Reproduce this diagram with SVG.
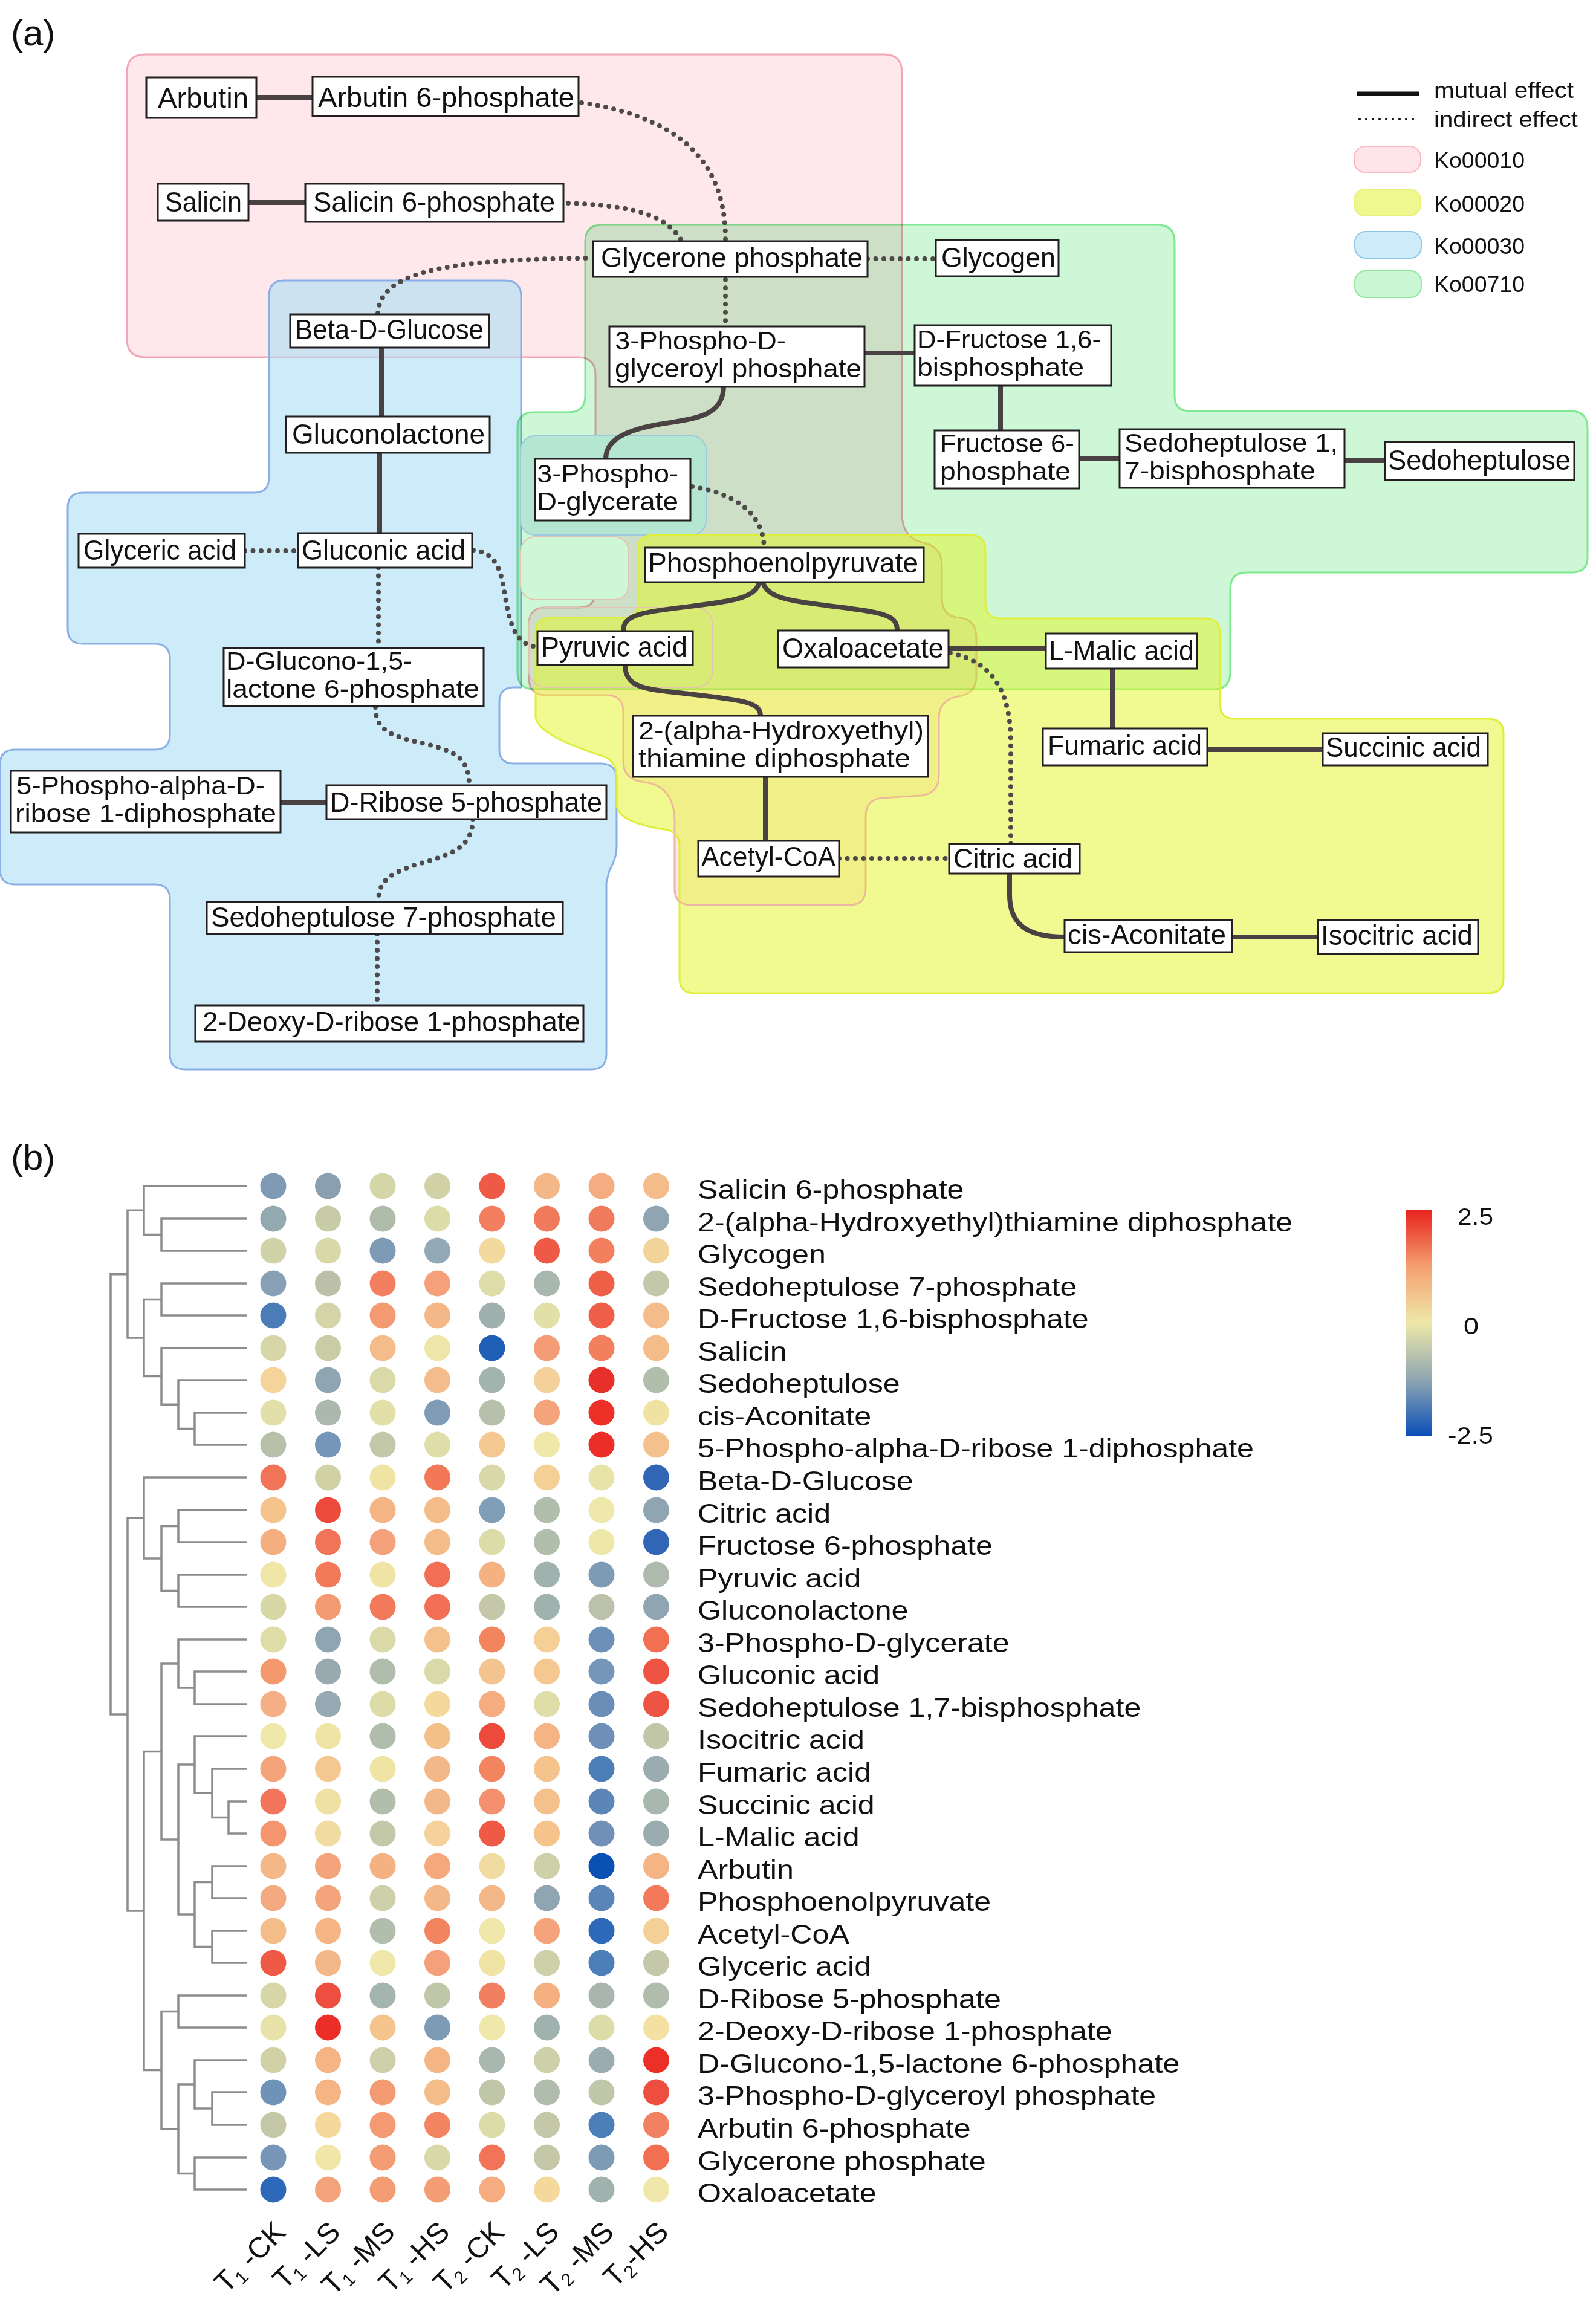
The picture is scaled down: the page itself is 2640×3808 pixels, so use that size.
<svg xmlns="http://www.w3.org/2000/svg" width="2640" height="3808" viewBox="0 0 2640 3808">
<style>
.reg{mix-blend-mode:multiply;stroke-width:3}
.box{fill:#fff;stroke:#231f20;stroke-width:3}
.nt{font-family:"Liberation Sans",Arial,sans-serif;font-size:46px;fill:#111}
.nt2{font-family:"Liberation Sans",Arial,sans-serif;font-size:42px;fill:#111}
.sol{fill:none;stroke:#4a4242;stroke-width:8}
.dot{fill:none;stroke:#4f4a4a;stroke-width:8;stroke-linecap:round;stroke-dasharray:0 13.5}
.lg{font-family:"Liberation Sans",Arial,sans-serif;font-size:36px;fill:#111}
.pl{font-family:"Liberation Sans",Arial,sans-serif;font-size:60px;fill:#111}
.den{fill:none;stroke:#8c8c8c;stroke-width:3.5}
.rl{font-family:"Liberation Sans",Arial,sans-serif;font-size:44px;fill:#111}
.cl{font-family:"Liberation Sans",Arial,sans-serif;font-size:48px;fill:#111}
.cb{font-family:"Liberation Sans",Arial,sans-serif;font-size:38px;fill:#111}
</style>
<defs>
<linearGradient id="cbar" x1="0" y1="0" x2="0" y2="1">
<stop offset="0" stop-color="#e8231e"/>
<stop offset="0.25" stop-color="#f4a070"/>
<stop offset="0.5" stop-color="#eee8a8"/>
<stop offset="0.75" stop-color="#8fa6b2"/>
<stop offset="1" stop-color="#0a50b8"/>
</linearGradient>
</defs>
<rect width="2640" height="3808" fill="#fff"/>
<text class="pl" x="18" y="75">(a)</text>
<text class="pl" x="18" y="1935">(b)</text>

<g id="regions">
<path class="reg" fill="#ffe8ec" stroke="#f5a6b6" d="M240,90 H1462 Q1492,90 1492,120 V850 Q1492,890 1528,898 Q1558,905 1558,935 V990 Q1558,1020 1588,1022 Q1615,1025 1615,1055 V1118 Q1615,1148 1585,1152 Q1553,1158 1553,1188 V1283 Q1553,1313 1523,1316 L1460,1320 Q1432,1322 1432,1350 V1470 Q1432,1497 1405,1497 H1143 Q1116,1497 1116,1470 V1360 Q1116,1300 1066,1294 Q1031,1290 1031,1260 V1178 Q1031,1150 1003,1150 H903 Q875,1150 875,1122 V1033 Q875,1005 903,1005 H958 Q985,1005 985,978 V620 Q985,591 956,591 H240 Q210,591 210,561 V120 Q210,90 240,90 Z"/>
<path fill="#acdef3" fill-opacity="0.6" stroke="#8aaee6" stroke-width="3" d="M470,464 H835 Q862,464 862,490 V1137 H850 Q826,1137 826,1162 V1240 Q826,1263 850,1263 H995 Q1020,1263 1020,1290 V1400 Q1020,1420 1008,1440 L1003,1460 V1744 Q1003,1769 978,1769 H306 Q281,1769 281,1744 V1488 Q281,1463 256,1463 H25 Q0,1463 0,1438 V1265 Q0,1240 25,1240 H256 Q281,1240 281,1215 V1090 Q281,1065 256,1065 H137 Q112,1065 112,1040 V840 Q112,815 137,815 H420 Q445,815 445,790 V489 Q445,464 470,464 Z"/>
<path class="reg" fill="#cdf7d7" stroke="#7de88e" d="M995,372 H1915 Q1943,372 1943,400 V655 Q1943,680 1968,680 H2598 Q2626,680 2626,708 V922 Q2626,947 2600,947 H2062 Q2035,947 2035,975 V1112 Q2035,1140 2008,1140 H883 Q856,1140 856,1112 V708 Q856,682 883,682 H940 Q968,682 968,655 V400 Q968,372 995,372 Z"/>
<rect x="861" y="721" width="307" height="164" rx="24" fill="#b4e6d2" stroke="#9ccbe0" stroke-width="2"/>
<rect x="861" y="888" width="179" height="104" rx="24" fill="#cdf7d7" stroke="#e6c4b4" stroke-width="2"/>
<path fill="#e1f523" fill-opacity="0.5" stroke="#dfee3a" stroke-width="3" d="M1080,885 H1605 Q1630,885 1630,910 V998 Q1630,1023 1655,1023 H1993 Q2018,1023 2018,1048 V1164 Q2018,1189 2043,1189 H2462 Q2487,1189 2487,1214 V1618 Q2487,1643 2462,1643 H1149 Q1124,1643 1124,1618 V1400 Q1124,1375 1099,1372 Q1020,1360 1020,1330 V1285 Q1020,1258 995,1250 Q886,1215 886,1185 V1047 Q886,1022 911,1022 H1030 Q1055,1022 1055,997 V910 Q1055,885 1080,885 Z"/>
<rect x="875" y="1005" width="304" height="132" rx="28" fill="none" stroke="#e6c4b4" stroke-width="2"/>
<path fill="none" stroke="#efb4a8" stroke-width="2" d="M1585,1152 Q1553,1158 1553,1188 V1283 Q1553,1313 1523,1316 L1460,1320 Q1432,1322 1432,1350 V1470 Q1432,1497 1405,1497 H1143 Q1116,1497 1116,1470 V1360 Q1116,1300 1066,1294 Q1031,1290 1031,1260 V1178 Q1031,1150 1003,1150"/>
</g>

<g id="legend">
<path d="M2245,155 H2347" stroke="#111" stroke-width="7"/>
<text class="lg" x="2372" y="162" textLength="231" lengthAdjust="spacingAndGlyphs">mutual effect</text>
<path d="M2249,197 H2347" stroke="#111" stroke-width="4" stroke-linecap="round" stroke-dasharray="0 11"/>
<text class="lg" x="2372" y="210" textLength="238" lengthAdjust="spacingAndGlyphs">indirect effect</text>
<rect x="2240" y="242" width="110" height="43" rx="18" fill="#ffe4e9" stroke="#f7b8c4" stroke-width="2"/>
<text class="lg" x="2372" y="278" textLength="150" lengthAdjust="spacingAndGlyphs">Ko00010</text>
<rect x="2240" y="313" width="110" height="44" rx="18" fill="#eff88e" stroke="#e8f27a" stroke-width="2"/>
<text class="lg" x="2372" y="350" textLength="150" lengthAdjust="spacingAndGlyphs">Ko00020</text>
<rect x="2241" y="383" width="110" height="44" rx="18" fill="#cdebf9" stroke="#8cc8e8" stroke-width="2"/>
<text class="lg" x="2372" y="420" textLength="150" lengthAdjust="spacingAndGlyphs">Ko00030</text>
<rect x="2241" y="448" width="110" height="44" rx="18" fill="#caf6d3" stroke="#8de89a" stroke-width="2"/>
<text class="lg" x="2372" y="483" textLength="150" lengthAdjust="spacingAndGlyphs">Ko00710</text>
</g>

<g id="connectors">
<path class="sol" d="M424,161 H517"/>
<path class="sol" d="M411,335 H505"/>
<path class="sol" d="M631,575 V689"/>
<path class="sol" d="M628,749 V882"/>
<path class="sol" d="M1430,584 H1513"/>
<path class="sol" d="M1655,638 V712"/>
<path class="sol" d="M1785,759 H1852"/>
<path class="sol" d="M2224,762 H2291"/>
<path class="sol" d="M1197,640 C1195,690 1150,692 1090,702 C1020,714 1002,735 1002,759"/>
<path class="sol" d="M1256,963 C1250,992 1200,995 1150,1002 C1060,1013 1031,1016 1031,1044"/>
<path class="sol" d="M1262,963 C1268,992 1320,995 1370,1002 C1460,1013 1484,1016 1484,1043"/>
<path class="sol" d="M1034,1100 C1034,1140 1070,1140 1140,1148 C1230,1158 1258,1162 1258,1184"/>
<path class="sol" d="M1266,1285 V1391"/>
<path class="sol" d="M1569,1073 H1730"/>
<path class="sol" d="M1840,1106 V1205"/>
<path class="sol" d="M1997,1240 H2188"/>
<path class="sol" d="M1670,1445 V1480 C1670,1530 1700,1550 1761,1550"/>
<path class="sol" d="M2038,1550 H2180"/>
<path class="sol" d="M464,1328 H540"/>
<path class="dot" d="M962,170 C1100,190 1198,250 1200,390 V540"/>
<path class="dot" d="M940,336 C1040,340 1100,352 1128,399"/>
<path class="dot" d="M625,518 C630,460 700,428 981,427"/>
<path class="dot" d="M1435,428 H1548"/>
<path class="dot" d="M405,911 H493"/>
<path class="dot" d="M783,910 C830,915 830,960 838,1000 C846,1045 860,1068 889,1070"/>
<path class="dot" d="M626,939 V1072"/>
<path class="dot" d="M621,1170 C621,1215 660,1220 710,1232 C760,1245 776,1260 776,1299"/>
<path class="dot" d="M782,1355 C782,1405 740,1415 690,1430 C640,1445 626,1460 626,1492"/>
<path class="dot" d="M624,1545 V1663"/>
<path class="dot" d="M1145,805 C1210,815 1262,845 1264,906"/>
<path class="dot" d="M1572,1080 C1640,1095 1672,1140 1672,1230 V1396"/>
<path class="dot" d="M1388,1420 H1570"/>
</g>

<g id="nodes">
<g id="n-arbutin"><rect class="box" x="242" y="128" width="182" height="67"/><text class="nt" x="261" y="178" textLength="150" lengthAdjust="spacingAndGlyphs">Arbutin</text></g>
<g id="n-arbutin6p"><rect class="box" x="517" y="127" width="440" height="65"/><text class="nt" x="526" y="177" textLength="424" lengthAdjust="spacingAndGlyphs">Arbutin 6-phosphate</text></g>
<g id="n-salicin"><rect class="box" x="261" y="304" width="150" height="61"/><text class="nt" x="273" y="350" textLength="127" lengthAdjust="spacingAndGlyphs">Salicin</text></g>
<g id="n-salicin6p"><rect class="box" x="505" y="304" width="427" height="63"/><text class="nt" x="518" y="350" textLength="400" lengthAdjust="spacingAndGlyphs">Salicin 6-phosphate</text></g>
<g id="n-glycerone"><rect class="box" x="981" y="399" width="454" height="59"/><text class="nt" x="994" y="442" textLength="433" lengthAdjust="spacingAndGlyphs">Glycerone phosphate</text></g>
<g id="n-glycogen"><rect class="box" x="1548" y="397" width="203" height="60"/><text class="nt" x="1557" y="442" textLength="189" lengthAdjust="spacingAndGlyphs">Glycogen</text></g>
<g id="n-betaglucose"><rect class="box" x="480" y="520" width="329" height="55"/><text class="nt" x="488" y="561" textLength="312" lengthAdjust="spacingAndGlyphs">Beta-D-Glucose</text></g>
<g id="n-pglyceroylp"><rect class="box" x="1008" y="540" width="422" height="100"/><text class="nt2" x="1017" y="578" textLength="283" lengthAdjust="spacingAndGlyphs">3-Phospho-D-</text><text class="nt2" x="1017" y="624" textLength="408" lengthAdjust="spacingAndGlyphs">glyceroyl phosphate</text></g>
<g id="n-fbp"><rect class="box" x="1513" y="538" width="325" height="100"/><text class="nt2" x="1517" y="576" textLength="304" lengthAdjust="spacingAndGlyphs">D-Fructose 1,6-</text><text class="nt2" x="1517" y="622" textLength="276" lengthAdjust="spacingAndGlyphs">bisphosphate</text></g>
<g id="n-gluconolactone"><rect class="box" x="473" y="689" width="337" height="60"/><text class="nt" x="483" y="734" textLength="319" lengthAdjust="spacingAndGlyphs">Gluconolactone</text></g>
<g id="n-f6p"><rect class="box" x="1546" y="712" width="239" height="96"/><text class="nt2" x="1555" y="748" textLength="222" lengthAdjust="spacingAndGlyphs">Fructose 6-</text><text class="nt2" x="1555" y="794" textLength="216" lengthAdjust="spacingAndGlyphs">phosphate</text></g>
<g id="n-sbp"><rect class="box" x="1852" y="710" width="372" height="97"/><text class="nt2" x="1860" y="747" textLength="353" lengthAdjust="spacingAndGlyphs">Sedoheptulose 1,</text><text class="nt2" x="1860" y="793" textLength="316" lengthAdjust="spacingAndGlyphs">7-bisphosphate</text></g>
<g id="n-sedoheptulose"><rect class="box" x="2291" y="731" width="313" height="63"/><text class="nt" x="2296" y="777" textLength="302" lengthAdjust="spacingAndGlyphs">Sedoheptulose</text></g>
<g id="n-3pg"><rect class="box" x="885" y="759" width="257" height="102"/><text class="nt2" x="888" y="798" textLength="234" lengthAdjust="spacingAndGlyphs">3-Phospho-</text><text class="nt2" x="888" y="844" textLength="234" lengthAdjust="spacingAndGlyphs">D-glycerate</text></g>
<g id="n-glyceric"><rect class="box" x="130" y="883" width="275" height="56"/><text class="nt" x="138" y="926" textLength="253" lengthAdjust="spacingAndGlyphs">Glyceric acid</text></g>
<g id="n-gluconic"><rect class="box" x="493" y="882" width="288" height="57"/><text class="nt" x="499" y="926" textLength="271" lengthAdjust="spacingAndGlyphs">Gluconic acid</text></g>
<g id="n-pep"><rect class="box" x="1067" y="906" width="461" height="57"/><text class="nt" x="1072" y="947" textLength="447" lengthAdjust="spacingAndGlyphs">Phosphoenolpyruvate</text></g>
<g id="n-pyruvic"><rect class="box" x="889" y="1044" width="257" height="56"/><text class="nt" x="895" y="1086" textLength="242" lengthAdjust="spacingAndGlyphs">Pyruvic acid</text></g>
<g id="n-oxaloacetate"><rect class="box" x="1287" y="1043" width="282" height="61"/><text class="nt" x="1294" y="1088" textLength="267" lengthAdjust="spacingAndGlyphs">Oxaloacetate</text></g>
<g id="n-malic"><rect class="box" x="1730" y="1048" width="250" height="58"/><text class="nt" x="1735" y="1092" textLength="240" lengthAdjust="spacingAndGlyphs">L-Malic acid</text></g>
<g id="n-glucono6p"><rect class="box" x="370" y="1072" width="430" height="96"/><text class="nt2" x="374" y="1108" textLength="308" lengthAdjust="spacingAndGlyphs">D-Glucono-1,5-</text><text class="nt2" x="374" y="1154" textLength="419" lengthAdjust="spacingAndGlyphs">lactone 6-phosphate</text></g>
<g id="n-htpp"><rect class="box" x="1047" y="1184" width="488" height="101"/><text class="nt2" x="1056" y="1223" textLength="472" lengthAdjust="spacingAndGlyphs">2-(alpha-Hydroxyethyl)</text><text class="nt2" x="1056" y="1269" textLength="450" lengthAdjust="spacingAndGlyphs">thiamine diphosphate</text></g>
<g id="n-fumaric"><rect class="box" x="1725" y="1205" width="272" height="61"/><text class="nt" x="1733" y="1249" textLength="255" lengthAdjust="spacingAndGlyphs">Fumaric acid</text></g>
<g id="n-succinic"><rect class="box" x="2188" y="1213" width="273" height="53"/><text class="nt" x="2193" y="1252" textLength="257" lengthAdjust="spacingAndGlyphs">Succinic acid</text></g>
<g id="n-prpp"><rect class="box" x="18" y="1275" width="446" height="102"/><text class="nt2" x="27" y="1314" textLength="411" lengthAdjust="spacingAndGlyphs">5-Phospho-alpha-D-</text><text class="nt2" x="25" y="1360" textLength="432" lengthAdjust="spacingAndGlyphs">ribose 1-diphosphate</text></g>
<g id="n-ribose5p"><rect class="box" x="540" y="1299" width="463" height="56"/><text class="nt" x="546" y="1343" textLength="450" lengthAdjust="spacingAndGlyphs">D-Ribose 5-phosphate</text></g>
<g id="n-acetylcoa"><rect class="box" x="1155" y="1391" width="233" height="59"/><text class="nt" x="1160" y="1433" textLength="222" lengthAdjust="spacingAndGlyphs">Acetyl-CoA</text></g>
<g id="n-citric"><rect class="box" x="1570" y="1396" width="216" height="49"/><text class="nt" x="1577" y="1436" textLength="197" lengthAdjust="spacingAndGlyphs">Citric acid</text></g>
<g id="n-s7p"><rect class="box" x="342" y="1492" width="589" height="53"/><text class="nt" x="349" y="1533" textLength="571" lengthAdjust="spacingAndGlyphs">Sedoheptulose 7-phosphate</text></g>
<g id="n-cisaconitate"><rect class="box" x="1761" y="1522" width="277" height="53"/><text class="nt" x="1766" y="1562" textLength="262" lengthAdjust="spacingAndGlyphs">cis-Aconitate</text></g>
<g id="n-isocitric"><rect class="box" x="2180" y="1522" width="265" height="56"/><text class="nt" x="2185" y="1563" textLength="251" lengthAdjust="spacingAndGlyphs">Isocitric acid</text></g>
<g id="n-deoxyribose"><rect class="box" x="323" y="1663" width="642" height="60"/><text class="nt" x="335" y="1706" textLength="625" lengthAdjust="spacingAndGlyphs">2-Deoxy-D-ribose 1-phosphate</text></g>
</g>

<g id="dendrogram" class="den">
<path d="M408,2016 H267 V2069 H408"/>
<path d="M408,1962 H238 V2042.5 H267"/>
<path d="M408,2123 H267 V2176 H408"/>
<path d="M408,2337 H322 V2390 H408"/>
<path d="M408,2283 H295 V2363.5 H322"/>
<path d="M408,2230 H267 V2323.25 H295"/>
<path d="M267,2149.5 H238 V2276.6 H267"/>
<path d="M238,2002.25 H211 V2213.1 H238"/>
<path d="M408,2498 H295 V2551 H408"/>
<path d="M408,2605 H295 V2658 H408"/>
<path d="M295,2524.5 H267 V2631.5 H295"/>
<path d="M408,2444 H238 V2578 H267"/>
<path d="M408,2765 H322 V2819 H408"/>
<path d="M408,2712 H295 V2792 H322"/>
<path d="M408,2980 H378 V3033 H408"/>
<path d="M408,2926 H351 V3006.5 H378"/>
<path d="M408,2872 H322 V2966.25 H351"/>
<path d="M408,3087 H351 V3140 H408"/>
<path d="M408,3194 H351 V3247 H408"/>
<path d="M351,3113.5 H322 V3220.5 H351"/>
<path d="M322,2919.1 H295 V3167 H322"/>
<path d="M295,2752 H267 V3043.1 H295"/>
<path d="M408,3301 H295 V3354 H408"/>
<path d="M408,3461 H351 V3515 H408"/>
<path d="M408,3408 H322 V3488 H351"/>
<path d="M408,3569 H322 V3622 H408"/>
<path d="M322,3448 H295 V3595.5 H322"/>
<path d="M295,3327.5 H267 V3521.75 H295"/>
<path d="M267,2897.5 H238 V3424.6 H267"/>
<path d="M238,2511 H211 V3161.1 H238"/>
<path d="M211,2107.7 H183 V2836 H211"/>
</g>

<g id="heatmap">
<g transform="translate(0,1962)"><circle cx="452" r="21.5" fill="#7f9ab5"/><circle cx="542.5" r="21.5" fill="#8aa0b0"/><circle cx="633" r="21.5" fill="#d5d6a8"/><circle cx="723.5" r="21.5" fill="#d0d2a6"/><circle cx="814" r="21.5" fill="#ee5a45"/><circle cx="904.5" r="21.5" fill="#f4b888"/><circle cx="995" r="21.5" fill="#f4ac80"/><circle cx="1085.5" r="21.5" fill="#f4bc8a"/></g>
<g transform="translate(0,2016)"><circle cx="452" r="21.5" fill="#93a9b0"/><circle cx="542.5" r="21.5" fill="#c8cca6"/><circle cx="633" r="21.5" fill="#b0bcaa"/><circle cx="723.5" r="21.5" fill="#dcdca8"/><circle cx="814" r="21.5" fill="#f28060"/><circle cx="904.5" r="21.5" fill="#f07a5c"/><circle cx="995" r="21.5" fill="#f07a5c"/><circle cx="1085.5" r="21.5" fill="#8fa6b2"/></g>
<g transform="translate(0,2069)"><circle cx="452" r="21.5" fill="#d0d2a8"/><circle cx="542.5" r="21.5" fill="#d8d8a8"/><circle cx="633" r="21.5" fill="#7e9bb5"/><circle cx="723.5" r="21.5" fill="#93a8b5"/><circle cx="814" r="21.5" fill="#f2da9e"/><circle cx="904.5" r="21.5" fill="#ee5a45"/><circle cx="995" r="21.5" fill="#f27f5e"/><circle cx="1085.5" r="21.5" fill="#f2d49a"/></g>
<g transform="translate(0,2123)"><circle cx="452" r="21.5" fill="#87a0b5"/><circle cx="542.5" r="21.5" fill="#bcc0a8"/><circle cx="633" r="21.5" fill="#f28060"/><circle cx="723.5" r="21.5" fill="#f4a07a"/><circle cx="814" r="21.5" fill="#deddA8"/><circle cx="904.5" r="21.5" fill="#a9b8ae"/><circle cx="995" r="21.5" fill="#ee5f48"/><circle cx="1085.5" r="21.5" fill="#c2c8a8"/></g>
<g transform="translate(0,2176)"><circle cx="452" r="21.5" fill="#4a7db8"/><circle cx="542.5" r="21.5" fill="#d3d4a8"/><circle cx="633" r="21.5" fill="#f49a72"/><circle cx="723.5" r="21.5" fill="#f4b888"/><circle cx="814" r="21.5" fill="#a0b0ae"/><circle cx="904.5" r="21.5" fill="#e2e0a8"/><circle cx="995" r="21.5" fill="#ee5e48"/><circle cx="1085.5" r="21.5" fill="#f4bc8a"/></g>
<g transform="translate(0,2230)"><circle cx="452" r="21.5" fill="#d6d6a8"/><circle cx="542.5" r="21.5" fill="#caccA6"/><circle cx="633" r="21.5" fill="#f4bc8a"/><circle cx="723.5" r="21.5" fill="#eee6a8"/><circle cx="814" r="21.5" fill="#1f5fb5"/><circle cx="904.5" r="21.5" fill="#f49c76"/><circle cx="995" r="21.5" fill="#f27f5e"/><circle cx="1085.5" r="21.5" fill="#f4bc88"/></g>
<g transform="translate(0,2283)"><circle cx="452" r="21.5" fill="#f4d49a"/><circle cx="542.5" r="21.5" fill="#8fa6b2"/><circle cx="633" r="21.5" fill="#dadaa8"/><circle cx="723.5" r="21.5" fill="#f4bc8a"/><circle cx="814" r="21.5" fill="#a3b3ae"/><circle cx="904.5" r="21.5" fill="#f4d09a"/><circle cx="995" r="21.5" fill="#e8302a"/><circle cx="1085.5" r="21.5" fill="#b2beac"/></g>
<g transform="translate(0,2337)"><circle cx="452" r="21.5" fill="#e2e0a8"/><circle cx="542.5" r="21.5" fill="#abb8ae"/><circle cx="633" r="21.5" fill="#e2e0a8"/><circle cx="723.5" r="21.5" fill="#7f9bb5"/><circle cx="814" r="21.5" fill="#b7c0aa"/><circle cx="904.5" r="21.5" fill="#f4a47a"/><circle cx="995" r="21.5" fill="#ec3028"/><circle cx="1085.5" r="21.5" fill="#f0e2a2"/></g>
<g transform="translate(0,2390)"><circle cx="452" r="21.5" fill="#b8c0aa"/><circle cx="542.5" r="21.5" fill="#7596b8"/><circle cx="633" r="21.5" fill="#c2c8a8"/><circle cx="723.5" r="21.5" fill="#e0dea8"/><circle cx="814" r="21.5" fill="#f4c890"/><circle cx="904.5" r="21.5" fill="#f0e8a8"/><circle cx="995" r="21.5" fill="#ec2e28"/><circle cx="1085.5" r="21.5" fill="#f4c08c"/></g>
<g transform="translate(0,2444)"><circle cx="452" r="21.5" fill="#f27458"/><circle cx="542.5" r="21.5" fill="#d0d2a6"/><circle cx="633" r="21.5" fill="#f0e4a4"/><circle cx="723.5" r="21.5" fill="#f27858"/><circle cx="814" r="21.5" fill="#d8d8a8"/><circle cx="904.5" r="21.5" fill="#f4d096"/><circle cx="995" r="21.5" fill="#e8e4a8"/><circle cx="1085.5" r="21.5" fill="#3066b5"/></g>
<g transform="translate(0,2498)"><circle cx="452" r="21.5" fill="#f4c48c"/><circle cx="542.5" r="21.5" fill="#ee4a3c"/><circle cx="633" r="21.5" fill="#f4b484"/><circle cx="723.5" r="21.5" fill="#f4bc88"/><circle cx="814" r="21.5" fill="#819eb8"/><circle cx="904.5" r="21.5" fill="#b2beac"/><circle cx="995" r="21.5" fill="#eee8aa"/><circle cx="1085.5" r="21.5" fill="#8fa6b2"/></g>
<g transform="translate(0,2551)"><circle cx="452" r="21.5" fill="#f4ae80"/><circle cx="542.5" r="21.5" fill="#f27458"/><circle cx="633" r="21.5" fill="#f4a07a"/><circle cx="723.5" r="21.5" fill="#f4bc88"/><circle cx="814" r="21.5" fill="#dcdca8"/><circle cx="904.5" r="21.5" fill="#b2beac"/><circle cx="995" r="21.5" fill="#eee8a8"/><circle cx="1085.5" r="21.5" fill="#3066b5"/></g>
<g transform="translate(0,2605)"><circle cx="452" r="21.5" fill="#f0e6a8"/><circle cx="542.5" r="21.5" fill="#f27a5a"/><circle cx="633" r="21.5" fill="#f0e4a4"/><circle cx="723.5" r="21.5" fill="#f26e54"/><circle cx="814" r="21.5" fill="#f4b282"/><circle cx="904.5" r="21.5" fill="#a0b2ae"/><circle cx="995" r="21.5" fill="#7e9bb5"/><circle cx="1085.5" r="21.5" fill="#aebaae"/></g>
<g transform="translate(0,2658)"><circle cx="452" r="21.5" fill="#d8d8a6"/><circle cx="542.5" r="21.5" fill="#f49a72"/><circle cx="633" r="21.5" fill="#f27a5a"/><circle cx="723.5" r="21.5" fill="#f26e54"/><circle cx="814" r="21.5" fill="#c4c8a8"/><circle cx="904.5" r="21.5" fill="#a0b2ae"/><circle cx="995" r="21.5" fill="#bcc2aa"/><circle cx="1085.5" r="21.5" fill="#8fa6b2"/></g>
<g transform="translate(0,2712)"><circle cx="452" r="21.5" fill="#deddA8"/><circle cx="542.5" r="21.5" fill="#8da6b2"/><circle cx="633" r="21.5" fill="#dadaa8"/><circle cx="723.5" r="21.5" fill="#f4c08c"/><circle cx="814" r="21.5" fill="#f2845e"/><circle cx="904.5" r="21.5" fill="#f4d096"/><circle cx="995" r="21.5" fill="#6c90b8"/><circle cx="1085.5" r="21.5" fill="#f27052"/></g>
<g transform="translate(0,2765)"><circle cx="452" r="21.5" fill="#f4986e"/><circle cx="542.5" r="21.5" fill="#98aab0"/><circle cx="633" r="21.5" fill="#b0bcac"/><circle cx="723.5" r="21.5" fill="#dadaa8"/><circle cx="814" r="21.5" fill="#f4c490"/><circle cx="904.5" r="21.5" fill="#f4c890"/><circle cx="995" r="21.5" fill="#7496b8"/><circle cx="1085.5" r="21.5" fill="#ee5444"/></g>
<g transform="translate(0,2819)"><circle cx="452" r="21.5" fill="#f4b084"/><circle cx="542.5" r="21.5" fill="#95aab2"/><circle cx="633" r="21.5" fill="#dcdca8"/><circle cx="723.5" r="21.5" fill="#f4d89c"/><circle cx="814" r="21.5" fill="#f4ac80"/><circle cx="904.5" r="21.5" fill="#e0dea8"/><circle cx="995" r="21.5" fill="#6a8eb8"/><circle cx="1085.5" r="21.5" fill="#ee5444"/></g>
<g transform="translate(0,2872)"><circle cx="452" r="21.5" fill="#f0e8a8"/><circle cx="542.5" r="21.5" fill="#f0e4a4"/><circle cx="633" r="21.5" fill="#b0bcac"/><circle cx="723.5" r="21.5" fill="#f4c08a"/><circle cx="814" r="21.5" fill="#ee4a3c"/><circle cx="904.5" r="21.5" fill="#f4b484"/><circle cx="995" r="21.5" fill="#6e90b8"/><circle cx="1085.5" r="21.5" fill="#c0c6a8"/></g>
<g transform="translate(0,2926)"><circle cx="452" r="21.5" fill="#f4a47a"/><circle cx="542.5" r="21.5" fill="#f4c890"/><circle cx="633" r="21.5" fill="#f0e4a4"/><circle cx="723.5" r="21.5" fill="#f4b888"/><circle cx="814" r="21.5" fill="#f28460"/><circle cx="904.5" r="21.5" fill="#f4c48c"/><circle cx="995" r="21.5" fill="#4c7eb8"/><circle cx="1085.5" r="21.5" fill="#9aacb0"/></g>
<g transform="translate(0,2980)"><circle cx="452" r="21.5" fill="#f2745a"/><circle cx="542.5" r="21.5" fill="#f0e0a2"/><circle cx="633" r="21.5" fill="#b2beac"/><circle cx="723.5" r="21.5" fill="#f4b888"/><circle cx="814" r="21.5" fill="#f49070"/><circle cx="904.5" r="21.5" fill="#f4c08c"/><circle cx="995" r="21.5" fill="#5c86b8"/><circle cx="1085.5" r="21.5" fill="#a8b8ae"/></g>
<g transform="translate(0,3033)"><circle cx="452" r="21.5" fill="#f4956e"/><circle cx="542.5" r="21.5" fill="#f0dca0"/><circle cx="633" r="21.5" fill="#c2c8a8"/><circle cx="723.5" r="21.5" fill="#f4d29a"/><circle cx="814" r="21.5" fill="#ee5a45"/><circle cx="904.5" r="21.5" fill="#f4c48c"/><circle cx="995" r="21.5" fill="#7090b8"/><circle cx="1085.5" r="21.5" fill="#9aacb0"/></g>
<g transform="translate(0,3087)"><circle cx="452" r="21.5" fill="#f4b888"/><circle cx="542.5" r="21.5" fill="#f4a47a"/><circle cx="633" r="21.5" fill="#f4b282"/><circle cx="723.5" r="21.5" fill="#f4a87c"/><circle cx="814" r="21.5" fill="#f0dca0"/><circle cx="904.5" r="21.5" fill="#cdd0a8"/><circle cx="995" r="21.5" fill="#0a50b5"/><circle cx="1085.5" r="21.5" fill="#f4b484"/></g>
<g transform="translate(0,3140)"><circle cx="452" r="21.5" fill="#f4aa80"/><circle cx="542.5" r="21.5" fill="#f4a47a"/><circle cx="633" r="21.5" fill="#cdd0a8"/><circle cx="723.5" r="21.5" fill="#f4b888"/><circle cx="814" r="21.5" fill="#f4b888"/><circle cx="904.5" r="21.5" fill="#8fa6b2"/><circle cx="995" r="21.5" fill="#5a85b8"/><circle cx="1085.5" r="21.5" fill="#f27a5a"/></g>
<g transform="translate(0,3194)"><circle cx="452" r="21.5" fill="#f4bc88"/><circle cx="542.5" r="21.5" fill="#f4b484"/><circle cx="633" r="21.5" fill="#b2beac"/><circle cx="723.5" r="21.5" fill="#f28460"/><circle cx="814" r="21.5" fill="#f0e8aa"/><circle cx="904.5" r="21.5" fill="#f4a47a"/><circle cx="995" r="21.5" fill="#2e68b8"/><circle cx="1085.5" r="21.5" fill="#f4d096"/></g>
<g transform="translate(0,3247)"><circle cx="452" r="21.5" fill="#ee5a45"/><circle cx="542.5" r="21.5" fill="#f4b888"/><circle cx="633" r="21.5" fill="#f0e8aa"/><circle cx="723.5" r="21.5" fill="#f4a07a"/><circle cx="814" r="21.5" fill="#f0e4a4"/><circle cx="904.5" r="21.5" fill="#cdd0a8"/><circle cx="995" r="21.5" fill="#4c7eb8"/><circle cx="1085.5" r="21.5" fill="#c4c8a8"/></g>
<g transform="translate(0,3301)"><circle cx="452" r="21.5" fill="#d6d6a6"/><circle cx="542.5" r="21.5" fill="#ee4e40"/><circle cx="633" r="21.5" fill="#a4b4ae"/><circle cx="723.5" r="21.5" fill="#c0c6a8"/><circle cx="814" r="21.5" fill="#f28060"/><circle cx="904.5" r="21.5" fill="#f4b080"/><circle cx="995" r="21.5" fill="#a8b6ae"/><circle cx="1085.5" r="21.5" fill="#b0bcac"/></g>
<g transform="translate(0,3354)"><circle cx="452" r="21.5" fill="#e6e2a8"/><circle cx="542.5" r="21.5" fill="#ec2e28"/><circle cx="633" r="21.5" fill="#f4c48c"/><circle cx="723.5" r="21.5" fill="#7e9bb5"/><circle cx="814" r="21.5" fill="#f0e8aa"/><circle cx="904.5" r="21.5" fill="#a0b2ae"/><circle cx="995" r="21.5" fill="#dcdca8"/><circle cx="1085.5" r="21.5" fill="#f4e0a0"/></g>
<g transform="translate(0,3408)"><circle cx="452" r="21.5" fill="#d0d2a6"/><circle cx="542.5" r="21.5" fill="#f4b484"/><circle cx="633" r="21.5" fill="#cdd0a8"/><circle cx="723.5" r="21.5" fill="#f4b484"/><circle cx="814" r="21.5" fill="#a8b8ae"/><circle cx="904.5" r="21.5" fill="#cdd0a8"/><circle cx="995" r="21.5" fill="#9aacb0"/><circle cx="1085.5" r="21.5" fill="#ec3028"/></g>
<g transform="translate(0,3461)"><circle cx="452" r="21.5" fill="#6e92b8"/><circle cx="542.5" r="21.5" fill="#f4b484"/><circle cx="633" r="21.5" fill="#f49a72"/><circle cx="723.5" r="21.5" fill="#f4bc88"/><circle cx="814" r="21.5" fill="#c0c6a8"/><circle cx="904.5" r="21.5" fill="#b0bcac"/><circle cx="995" r="21.5" fill="#c0c6a8"/><circle cx="1085.5" r="21.5" fill="#ee4e40"/></g>
<g transform="translate(0,3515)"><circle cx="452" r="21.5" fill="#c4c8a8"/><circle cx="542.5" r="21.5" fill="#f4d89c"/><circle cx="633" r="21.5" fill="#f49a72"/><circle cx="723.5" r="21.5" fill="#f28462"/><circle cx="814" r="21.5" fill="#dcdca8"/><circle cx="904.5" r="21.5" fill="#c4c8a8"/><circle cx="995" r="21.5" fill="#4c7eb8"/><circle cx="1085.5" r="21.5" fill="#f28062"/></g>
<g transform="translate(0,3569)"><circle cx="452" r="21.5" fill="#7896b8"/><circle cx="542.5" r="21.5" fill="#f0e6a8"/><circle cx="633" r="21.5" fill="#f49c74"/><circle cx="723.5" r="21.5" fill="#d8d8a8"/><circle cx="814" r="21.5" fill="#f27458"/><circle cx="904.5" r="21.5" fill="#c4c8a8"/><circle cx="995" r="21.5" fill="#7e9bb5"/><circle cx="1085.5" r="21.5" fill="#f27052"/></g>
<g transform="translate(0,3622)"><circle cx="452" r="21.5" fill="#2e68b8"/><circle cx="542.5" r="21.5" fill="#f4a47a"/><circle cx="633" r="21.5" fill="#f49c74"/><circle cx="723.5" r="21.5" fill="#f49c74"/><circle cx="814" r="21.5" fill="#f4ac80"/><circle cx="904.5" r="21.5" fill="#f4d89c"/><circle cx="995" r="21.5" fill="#a0b2ae"/><circle cx="1085.5" r="21.5" fill="#f0e8aa"/></g>
</g>

<g id="row-labels" transform="translate(1154,0) scale(1.14,1)">
<text class="rl" x="0" y="1983">Salicin 6-phosphate</text>
<text class="rl" x="0" y="2037">2-(alpha-Hydroxyethyl)thiamine diphosphate</text>
<text class="rl" x="0" y="2090">Glycogen</text>
<text class="rl" x="0" y="2144">Sedoheptulose 7-phosphate</text>
<text class="rl" x="0" y="2197">D-Fructose 1,6-bisphosphate</text>
<text class="rl" x="0" y="2251">Salicin</text>
<text class="rl" x="0" y="2304">Sedoheptulose</text>
<text class="rl" x="0" y="2358">cis-Aconitate</text>
<text class="rl" x="0" y="2411">5-Phospho-alpha-D-ribose 1-diphosphate</text>
<text class="rl" x="0" y="2465">Beta-D-Glucose</text>
<text class="rl" x="0" y="2519">Citric acid</text>
<text class="rl" x="0" y="2572">Fructose 6-phosphate</text>
<text class="rl" x="0" y="2626">Pyruvic acid</text>
<text class="rl" x="0" y="2679">Gluconolactone</text>
<text class="rl" x="0" y="2733">3-Phospho-D-glycerate</text>
<text class="rl" x="0" y="2786">Gluconic acid</text>
<text class="rl" x="0" y="2840">Sedoheptulose 1,7-bisphosphate</text>
<text class="rl" x="0" y="2893">Isocitric acid</text>
<text class="rl" x="0" y="2947">Fumaric acid</text>
<text class="rl" x="0" y="3001">Succinic acid</text>
<text class="rl" x="0" y="3054">L-Malic acid</text>
<text class="rl" x="0" y="3108">Arbutin</text>
<text class="rl" x="0" y="3161">Phosphoenolpyruvate</text>
<text class="rl" x="0" y="3215">Acetyl-CoA</text>
<text class="rl" x="0" y="3268">Glyceric acid</text>
<text class="rl" x="0" y="3322">D-Ribose 5-phosphate</text>
<text class="rl" x="0" y="3375">2-Deoxy-D-ribose 1-phosphate</text>
<text class="rl" x="0" y="3429">D-Glucono-1,5-lactone 6-phosphate</text>
<text class="rl" x="0" y="3482">3-Phospho-D-glyceroyl phosphate</text>
<text class="rl" x="0" y="3536">Arbutin 6-phosphate</text>
<text class="rl" x="0" y="3590">Glycerone phosphate</text>
<text class="rl" x="0" y="3643">Oxaloacetate</text>
</g>

<g id="col-labels">
<text class="cl" text-anchor="end" transform="translate(475,3695) rotate(-45)">T<tspan font-size="30" dy="8">1</tspan><tspan dy="-8"> -CK</tspan></text>
<text class="cl" text-anchor="end" transform="translate(565.5,3695) rotate(-45)">T<tspan font-size="30" dy="8">1</tspan><tspan dy="-8"> -LS</tspan></text>
<text class="cl" text-anchor="end" transform="translate(656,3695) rotate(-45)">T<tspan font-size="30" dy="8">1</tspan><tspan dy="-8"> -MS</tspan></text>
<text class="cl" text-anchor="end" transform="translate(746.5,3695) rotate(-45)">T<tspan font-size="30" dy="8">1</tspan><tspan dy="-8"> -HS</tspan></text>
<text class="cl" text-anchor="end" transform="translate(837,3695) rotate(-45)">T<tspan font-size="30" dy="8">2</tspan><tspan dy="-8"> -CK</tspan></text>
<text class="cl" text-anchor="end" transform="translate(927.5,3695) rotate(-45)">T<tspan font-size="30" dy="8">2</tspan><tspan dy="-8"> -LS</tspan></text>
<text class="cl" text-anchor="end" transform="translate(1018,3695) rotate(-45)">T<tspan font-size="30" dy="8">2</tspan><tspan dy="-8"> -MS</tspan></text>
<text class="cl" text-anchor="end" transform="translate(1108.5,3695) rotate(-45)">T<tspan font-size="30" dy="8">2</tspan><tspan dy="-8">-HS</tspan></text>
</g>

<g id="colorbar">
<rect x="2325" y="2002" width="44" height="373" fill="url(#cbar)"/>
<text class="cb" x="2411" y="2026" textLength="59" lengthAdjust="spacingAndGlyphs">2.5</text>
<text class="cb" x="2421" y="2207" textLength="25" lengthAdjust="spacingAndGlyphs">0</text>
<text class="cb" x="2395" y="2388" textLength="75" lengthAdjust="spacingAndGlyphs">-2.5</text>
</g>
</svg>
